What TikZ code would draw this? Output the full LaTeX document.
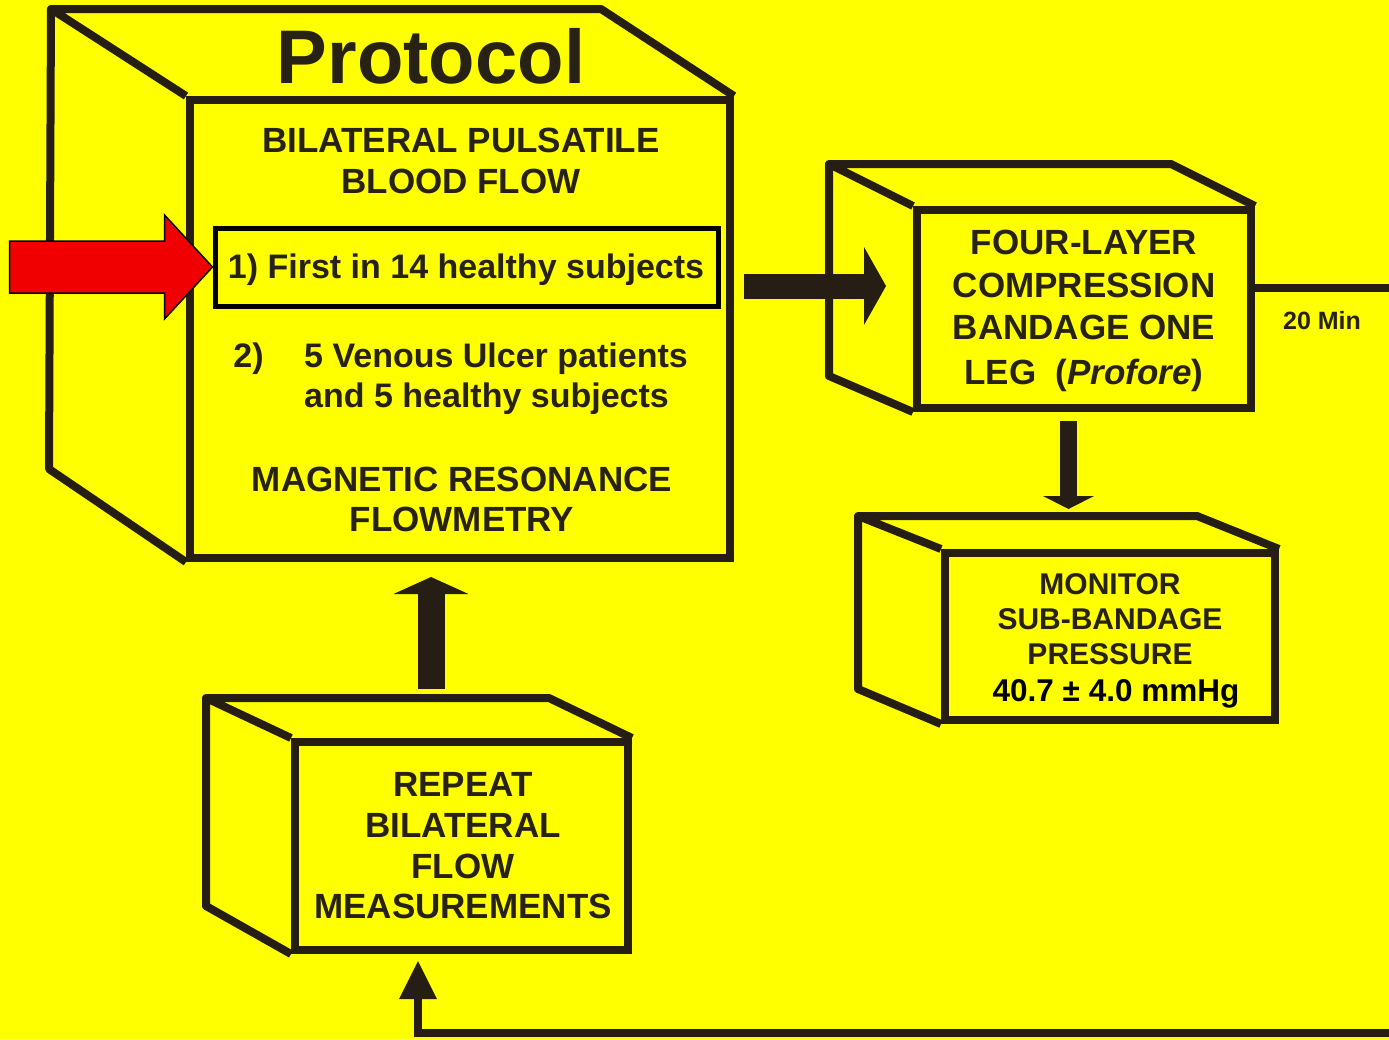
\documentclass[tikz,border=0pt]{standalone}
\usepackage{fontspec}
\setmainfont{Liberation Sans}
\usetikzlibrary{arrows.meta,calc}
\definecolor{bg}{RGB}{255,255,0}
\definecolor{ink}{RGB}{38,30,20}
\definecolor{txtc}{RGB}{40,34,22}
\definecolor{redar}{RGB}{240,0,0}
\tikzset{
  frontface/.style={draw=ink, line width=8pt, rectangle, inner sep=0pt},
  edge/.style={draw=ink, line width=8pt, line join=round},
  lbl/.style={text=txtc, inner sep=0pt, anchor=base, font=\bfseries\fontsize{35}{42}\selectfont},
  lblw/.style={lbl, anchor=base west},
  small/.style={lbl, font=\bfseries\fontsize{30}{36}\selectfont},
  fat/.style={draw=ink, line width=#1},
}
\begin{document}
\begin{tikzpicture}[x=1pt,y=-1pt]
\useasboundingbox (0,0) rectangle (1389,1039);
\clip (0,0) rectangle (1389,1039);
\fill[bg] (0,0) rectangle (1389,1039);

% ---------- Protocol box ----------
\node[frontface, minimum width=540pt, minimum height=458pt] (protfront) at (460,329) {};
\draw[edge] (protfront.north west) -- ++(-135,-87) coordinate (pb1)
  -- ($(protfront.north east)+(-133,-87)$) -- (protfront.north east);
\draw[edge] (pb1) -- ++(-2,460) -- (protfront.south west);

\node[lbl, font=\bfseries\fontsize{76}{80}\selectfont] (title) at (431,83) {Protocol};
\node[lbl] (bp1) at (461,152) {BILATERAL PULSATILE};
\node[lbl] (bp2) at (461,193) {BLOOD FLOW};
\node[draw=black, line width=5pt, inner sep=0pt, minimum width=503pt, minimum height=78pt] (firstbox) at (466.5,267) {};
\node[lbl, font=\bfseries\fontsize{34}{40}\selectfont] (first) at (466,278) {1) First in 14 healthy subjects};
\node[lbl, font=\bfseries\fontsize{34}{40}\selectfont] (two) at (248.5,367) {2)};
\node[lblw, font=\bfseries\fontsize{34}{40}\selectfont] (venous) at (304,367) {5 Venous Ulcer patients};
\node[lblw, font=\bfseries\fontsize{34}{40}\selectfont] (andfive) at (304,407) {and 5 healthy subjects};
\node[lbl] (mr1) at (462,491) {MAGNETIC RESONANCE};
\node[lbl] (mr2) at (462,531) {FLOWMETRY};

% red pointer
\filldraw[fill=redar, draw=black, line width=1.5pt, line join=miter]
  (firstbox.west) -- ++(-48,-52) -- ++(0,26) -- ++(-155,0) -- ++(0,52)
  -- ++(155,0) -- ++(0,26) -- cycle;

% ---------- Four-layer box ----------
\node[frontface, minimum width=334pt, minimum height=198pt] (bandfront) at (1084,309) {};
\draw[edge] (bandfront.north west) -- ++(-84,-42) coordinate (bb1)
  -- ($(bandfront.north east)+(-84,-42)$) -- (bandfront.north east);
\draw[edge] (bb1) -- ++(0,212) -- (bandfront.south west);
\node[lbl] (fl1) at (1084,254) {FOUR-LAYER};
\node[lbl] (fl2) at (1084,297) {COMPRESSION};
\node[lbl] (fl3) at (1084,339) {BANDAGE ONE};
\node[lbl] (fl4) at (1084,384) {LEG\ \ (\textit{Profore})};

% ---------- Monitor box ----------
\node[frontface, minimum width=330pt, minimum height=167pt] (monfront) at (1110,636.5) {};
\draw[edge] (monfront.north west) -- ++(-83,-33) coordinate (mb1)
  -- ($(monfront.north east)+(-82,-33)$) -- (monfront.north east);
\draw[edge] (mb1) -- ++(0,173) -- (monfront.south west);
\node[small] (mo1) at (1110,594) {MONITOR};
\node[small] (mo2) at (1110,629) {SUB-BANDAGE};
\node[small] (mo3) at (1110,664) {PRESSURE};
\node[lbl, text=black, font=\bfseries\fontsize{31.5}{36}\selectfont] (mo4) at (1116,701) {40.7 ± 4.0 mmHg};

% ---------- Repeat box ----------
\node[frontface, minimum width=333pt, minimum height=208pt] (repfront) at (461.5,846) {};
\draw[edge] (repfront.north west) -- ++(-85,-40) coordinate (rb1)
  -- ($(repfront.north east)+(-83,-40)$) -- (repfront.north east);
\draw[edge] (rb1) -- ++(0,208) -- (repfront.south west);
\node[lbl] (re1) at (463,796) {REPEAT};
\node[lbl] (re2) at (463,837) {BILATERAL};
\node[lbl] (re3) at (463,878) {FLOW};
\node[lbl] (re4) at (463,918) {MEASUREMENTS};

% ---------- connectors ----------
\draw[fat=25pt, -{Triangle[length=22pt,width=78pt,line width=0pt]}]
  ($(protfront.east)+(10,-43)$) -- ($(bandfront.west)+(-27,-23)$);
\draw[fat=17pt, -{Triangle[length=13pt,width=51pt,line width=0pt]}]
  ($(bandfront.south)+(-15.5,9)$) -- ($(monfront.north)+(-41.5,-40)$);
\draw[fat=27pt, -{Triangle[length=17pt,width=75pt,line width=0pt]}]
  ($(repfront.north)+(-30.5,-49)$) -- ($(protfront.south)+(-29,15)$);

\coordinate (outR) at (1400,288);
\coordinate (loopin) at (1400,1033);
\draw[fat=8pt] ($(bandfront.east)+(0,-21)$) -- (outR);
\node[lbl, font=\bfseries\fontsize{25}{30}\selectfont] (twenty) at (1322,329) {20 Min};
\draw[fat=8pt, line join=miter, -{Triangle[length=38pt,width=38pt,line width=0pt]}]
  (loopin) -| ($(repfront.south)+(-43.5,7)$);
\end{tikzpicture}
\end{document}
